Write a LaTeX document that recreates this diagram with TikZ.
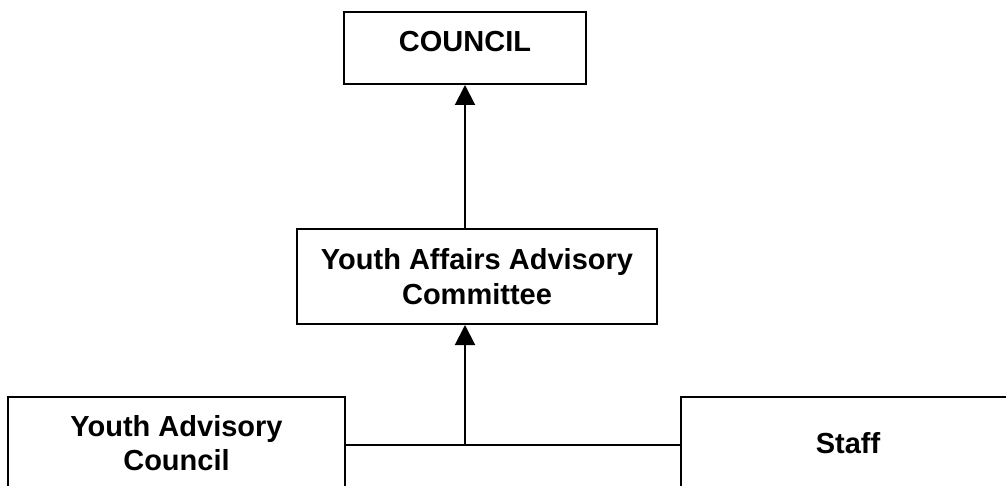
\documentclass[tikz,border=0pt]{standalone}
\usepackage{fontspec}
\setmainfont{Liberation Sans}
\usetikzlibrary{arrows.meta}
\tikzset{
  orgbox/.style={draw, line width=2pt, rectangle, inner sep=0pt, align=center,
    font=\fontsize{29}{34.5}\selectfont\bfseries},
  uparrow/.style={line width=2pt, -{Triangle[length=20pt,width=20pt]}}
}
\begin{document}
\begin{tikzpicture}[x=1pt,y=-1pt]
  \useasboundingbox (0,0) rectangle (1006,486);
  \clip (0,0) rectangle (1006,486);
  \node[orgbox, minimum width=242pt, text height=30pt, text depth=22pt, inner ysep=10pt]
    (council) at (465,48) {COUNCIL};
  \node[orgbox, minimum width=360pt, minimum height=95pt] (yaac) at (477,276.5)
    {Youth Affairs Advisory\\Committee};
  \node[orgbox, minimum width=337pt, minimum height=92pt] (yac) at (176.5,443)
    {Youth Advisory\\Council};
  \node[orgbox, minimum width=334pt, minimum height=92pt] (staff) at (848,443) {Staff};
  \coordinate (junction) at (465,445);
  \draw[line width=2pt] (yac.east |- junction) -- (staff.west |- junction);
  \draw[uparrow] (junction) -- (junction |- yaac.south);
  \draw[uparrow] (council.south |- yaac.north) -- (council.south);
\end{tikzpicture}
\end{document}
